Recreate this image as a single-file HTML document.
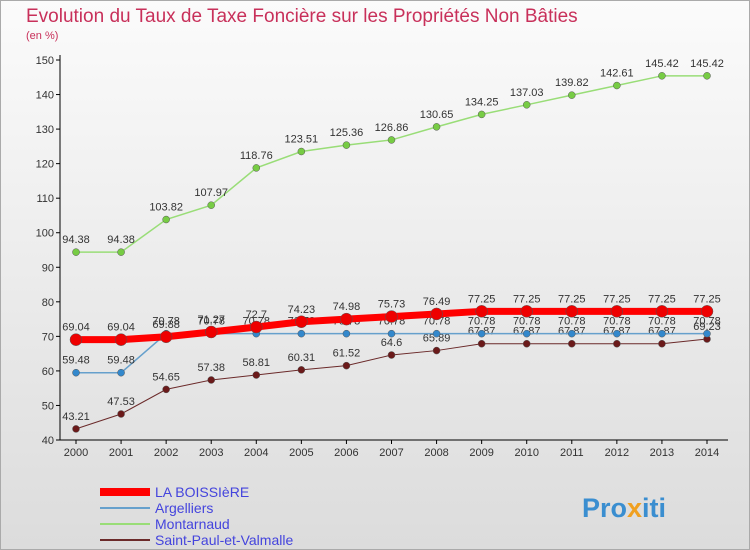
<!DOCTYPE html>
<html><head><meta charset="utf-8"><style>
body{margin:0;width:750px;height:550px;overflow:hidden;font-family:"Liberation Sans",sans-serif}
#c{position:absolute;left:0;top:0;width:748px;height:548px;border:1px solid #aaa;background:linear-gradient(#fbfbfb,#dcdcdc)}
</style></head><body>
<div id="c"></div>
<svg id="s" width="750" height="550" style="position:absolute;left:0;top:0">
<text x="26" y="22" font-size="19" fill="#c8305a">Evolution du Taux de Taxe Foncière sur les Propriétés Non Bâties</text>
<text x="26" y="39" font-size="11" fill="#c8305a">(en %)</text>
<g id="axes"></g><g id="series"></g><g id="legend"></g>
<text x="582" y="517" font-size="27" font-weight="bold" fill="#3a8ed0">Pro<tspan fill="#f0a020">x</tspan>iti</text>
</svg>
<script>
const years=[2000,2001,2002,2003,2004,2005,2006,2007,2008,2009,2010,2011,2012,2013,2014];
const yTicks=[40,50,60,70,80,90,100,110,120,130,140,150];
const laBoissiere=[69.04,69.04,69.88,71.27,72.7,74.23,74.98,75.73,76.49,77.25,77.25,77.25,77.25,77.25,77.25];
const argelliers=[59.48,59.48,70.78,70.78,70.78,70.78,70.78,70.78,70.78,70.78,70.78,70.78,70.78,70.78,70.78];
const montarnaud=[94.38,94.38,103.82,107.97,118.76,123.51,125.36,126.86,130.65,134.25,137.03,139.82,142.61,145.42,145.42];
const saintPaul=[43.21,47.53,54.65,57.38,58.81,60.31,61.52,64.6,65.89,67.87,67.87,67.87,67.87,67.87,69.23];
const NS="http://www.w3.org/2000/svg";
const xS=i=>76+i*(707-76)/(years.length-1);
const yS=v=>440-(v-40)*(380/110);
function mk(t,a,p){const e=document.createElementNS(NS,t);for(const k in a)e.setAttribute(k,a[k]);p.appendChild(e);return e;}
const ax=document.getElementById('axes');
let e=mk('line',{x1:60,y1:55,x2:60,y2:440,stroke:'#000'},ax);


e=mk('line',{x1:60,y1:440,x2:728,y2:440,stroke:'#000'},ax);


yTicks.forEach(v=>{
 mk('line',{x1:56,y1:yS(v),x2:60,y2:yS(v),stroke:'#000'},ax);
 const t=mk('text',{x:54,y:yS(v)+4,'font-size':11,'text-anchor':'end',fill:'#333'},ax);t.textContent=v;
 
 
});
years.forEach((y,i)=>{
 mk('line',{x1:xS(i),y1:440,x2:xS(i),y2:444,stroke:'#000'},ax);
 const t=mk('text',{x:xS(i),y:456,'font-size':11,'text-anchor':'middle',fill:'#333'},ax);t.textContent=y;
 
 
});
const sg=document.getElementById('series');
function draw(vals,col,dot,w,r,name){
 const g=mk('g',{},sg);
 
 
 const l=mk('polyline',{points:vals.map((v,i)=>xS(i)+','+yS(v)).join(' '),fill:'none',stroke:col,'stroke-width':w},g);
 
 
 vals.forEach((v,i)=>{
  const c=mk('circle',{cx:xS(i),cy:yS(v),r:r,fill:dot,stroke:'#555','stroke-width':0.5},g);
  
  
  const t=mk('text',{x:xS(i),y:yS(v)-9,'font-size':11,'text-anchor':'middle',fill:'#333'},g);t.textContent=v;
  
  
 });
}
draw(saintPaul,'#6b2a2a','#6b1a1a',1,3.5,'saint-paul');
draw(montarnaud,'#99dd77','#77cc44',1.5,3.5,'montarnaud');
draw(argelliers,'#66a0cc','#3388cc',1.5,3.5,'argelliers');
draw(laBoissiere,'#ff0000','#ee0000',7,6,'la-boissiere');
const lg=document.getElementById('legend');
[['LA BOISSIèRE','#ff0000',8],['Argelliers','#66a0cc',2],['Montarnaud','#99dd77',2],['Saint-Paul-et-Valmalle','#6b2a2a',2]].forEach((d,i)=>{
 const y=492+i*16;
 const l=mk('line',{x1:100,y1:y,x2:150,y2:y,stroke:d[1],'stroke-width':d[2]},lg);
 
 
 const t=mk('text',{x:155,y:y+5,'font-size':14,fill:'#4444dd'},lg);t.textContent=d[0];
 
 
});
</script>
</body></html>
